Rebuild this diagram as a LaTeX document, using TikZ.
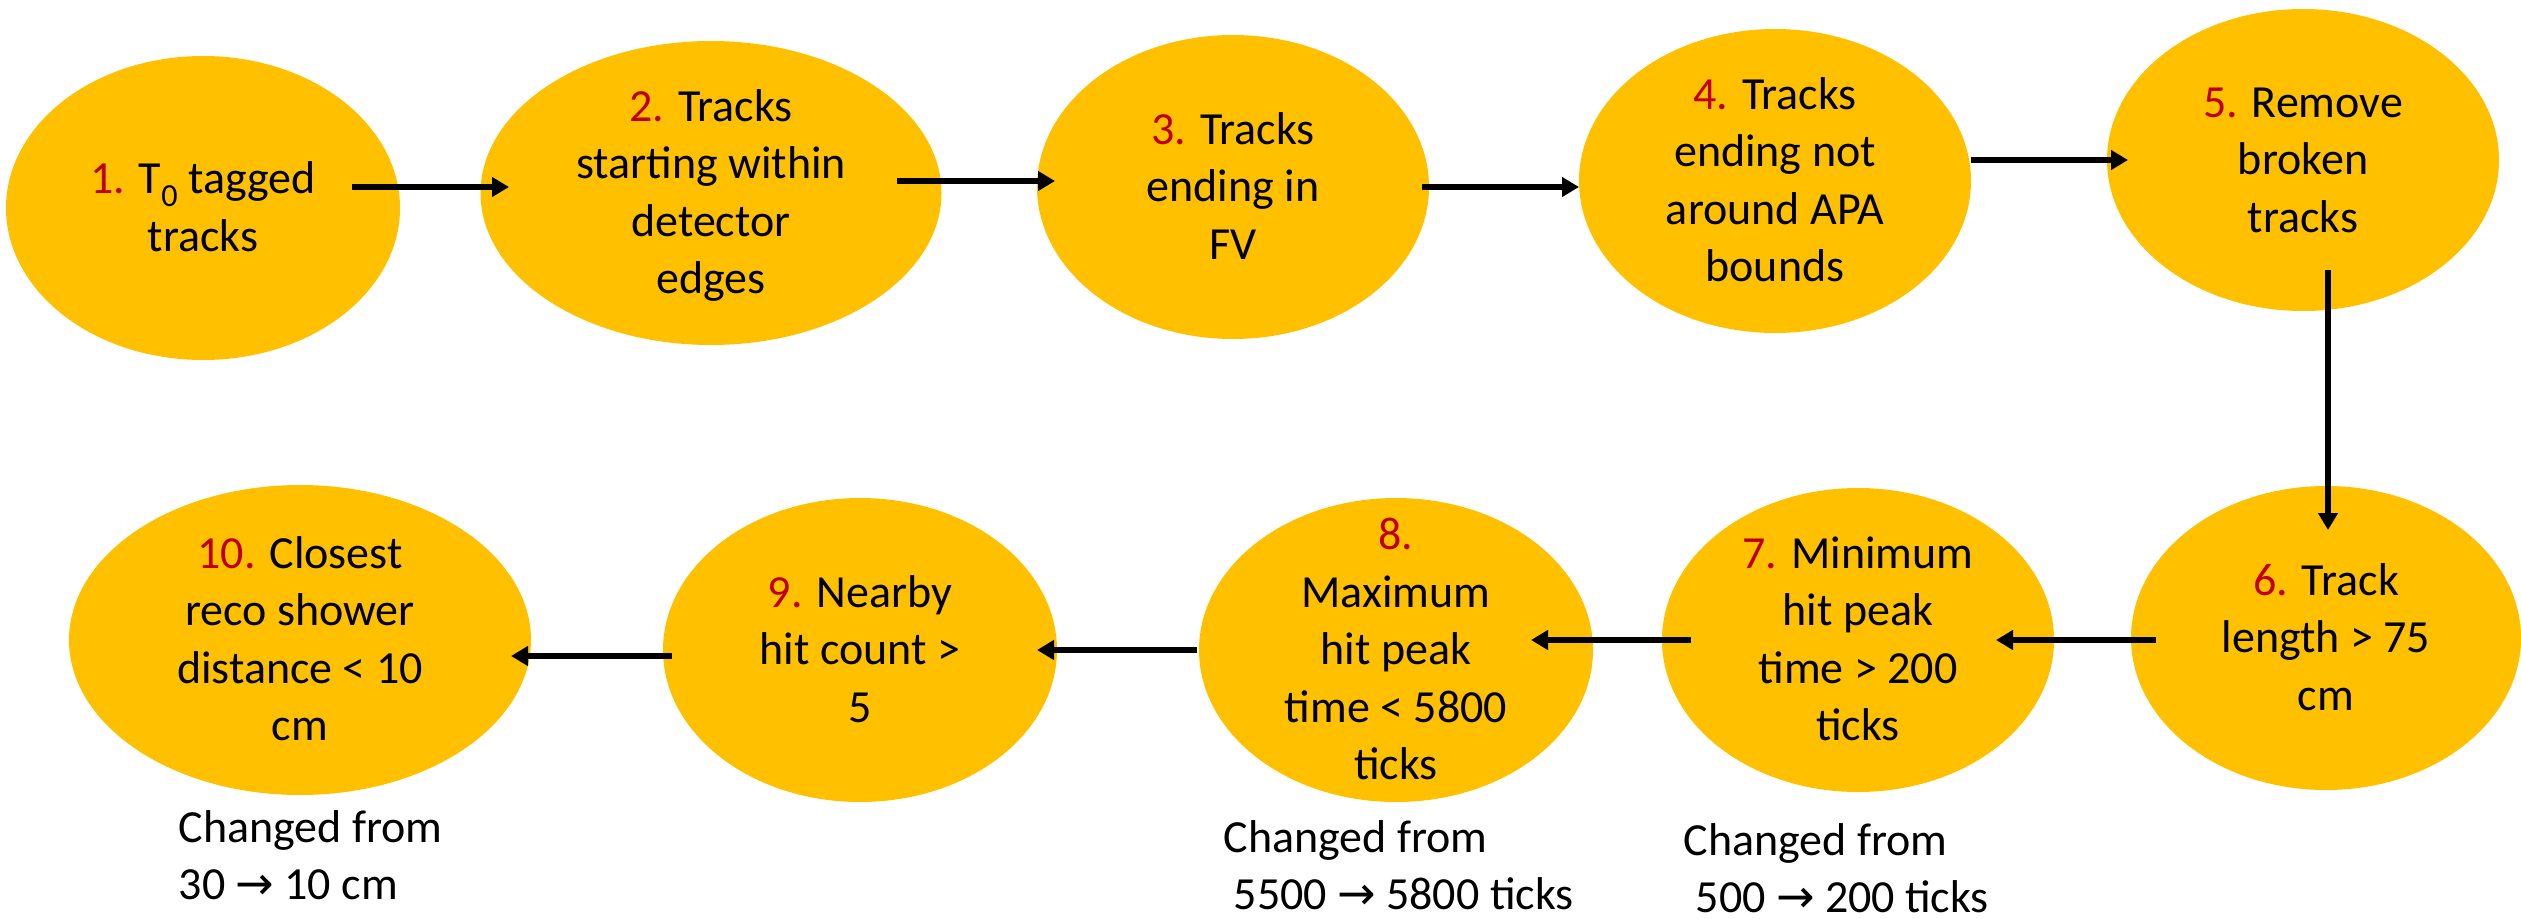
\documentclass[tikz,border=0pt]{standalone}
\usepackage{fontspec}
\setmainfont{Carlito}
\newfontfamily\djvfont{DejaVu Sans}
\usetikzlibrary{shapes.geometric,arrows.meta}
\definecolor{gold}{HTML}{FFC000}
\definecolor{numred}{HTML}{C00000}
% one centred line of zero width, height = cap height, no depth
\newcommand\cenline[1]{\hbox to 0pt{\hss\rule{0pt}{29pt}\smash{#1}\hss}}
% one left-aligned line of zero width
\newcommand\lftline[1]{\hbox to 0pt{\rule{0pt}{29pt}\smash{#1}\hss}}
\newcommand\tblock[1]{\vbox{\baselineskip=57.5pt\lineskiplimit=-500pt\lineskip=0pt #1}}
\newcommand\numc[1]{\textcolor{numred}{#1}}
\newcommand\rarr{{\djvfont →}}
\begin{document}
\begin{tikzpicture}[x=1pt,y=-1pt,
  ell/.style={ellipse, fill=gold, draw=none, inner sep=0pt},
  txt/.style={inner sep=0pt, font=\fontsize{46}{57.5}\selectfont},
  note/.style={inner sep=0pt, anchor=north west, font=\fontsize{46}{58}\selectfont},
  arr/.style={line width=5.5pt, -{Triangle[length=17pt,width=19pt]}}]
\useasboundingbox (0,0) rectangle (2521,918);
% ellipses
\node[ell, minimum width=394pt, minimum height=304pt] (e1) at (203,208) {};
\node[ell, minimum width=461pt, minimum height=304pt] (e2) at (711,193) {};
\node[ell, minimum width=392pt, minimum height=304pt] (e3) at (1233,187) {};
\node[ell, minimum width=392pt, minimum height=304pt] (e4) at (1775,181) {};
\node[ell, minimum width=392pt, minimum height=302pt] (e5) at (2303,160) {};
\node[ell, minimum width=390pt, minimum height=304pt] (e6) at (2326,638) {};
\node[ell, minimum width=392pt, minimum height=304pt] (e7) at (1858,640) {};
\node[ell, minimum width=394pt, minimum height=304pt] (e8) at (1396,650) {};
\node[ell, minimum width=394pt, minimum height=304pt] (e9) at (860,650) {};
\node[ell, minimum width=462pt, minimum height=310pt] (e10) at (300,640) {};
% texts
\node[txt] (t1) at (e1.center) {\tblock{\cenline{\numc{1.} T\textsubscript{0} tagged}\cenline{tracks}}};
\node[txt] (t2) at (e2.center) {\tblock{\cenline{\numc{2.} Tracks}\cenline{starting within}\cenline{detector}\cenline{edges}}};
\node[txt] (t3) at (e3.center) {\tblock{\cenline{\numc{3.} Tracks}\cenline{ending in}\cenline{FV}}};
\node[txt] (t4) at (e4.center) {\tblock{\cenline{\numc{4.} Tracks}\cenline{ending not}\cenline{around APA}\cenline{bounds}}};
\node[txt] (t5) at (e5.center) {\tblock{\cenline{\numc{5.} Remove}\cenline{broken}\cenline{tracks}}};
\node[txt] (t6) at (e6.center) {\tblock{\cenline{\numc{6.} Track}\cenline{length > 75}\cenline{cm}}};
\node[txt] (t7) at (e7.center) {\tblock{\cenline{\numc{7.} Minimum}\cenline{hit peak}\cenline{time > 200}\cenline{ticks}}};
\node[txt] (t8) at (e8.center) {\tblock{\cenline{\numc{8.}}\cenline{Maximum}\cenline{hit peak}\cenline{time < 5800}\cenline{ticks}}};
\node[txt] (t9) at (e9.center) {\tblock{\cenline{\numc{9.} Nearby}\cenline{hit count >}\cenline{5}}};
\node[txt] (t10) at (e10.center) {\tblock{\cenline{\numc{10.} Closest}\cenline{reco shower}\cenline{distance < 10}\cenline{cm}}};
% notes
\node[note] (n10) at (178,813) {\tblock{\lftline{Changed from}\lftline{30 \rarr{} 10 cm}}};
\node[note] (n8) at (1223,823) {\tblock{\lftline{Changed from}\lftline{\hspace{10pt}5500 \rarr{} 5800 ticks}}};
\node[note] (n7) at (1683,826) {\tblock{\lftline{Changed from}\lftline{\hspace{12pt}500 \rarr{} 200 ticks}}};
% arrow end points
\coordinate (a12s) at (352,187);  \coordinate (a12e) at (509,187);
\coordinate (a23s) at (897,181);  \coordinate (a23e) at (1055,181);
\coordinate (a34s) at (1422,187); \coordinate (a34e) at (1579,187);
\coordinate (a45s) at (1971,160); \coordinate (a45e) at (2128,160);
\coordinate (a56s) at (2328,270); \coordinate (a56e) at (2328,530);
\coordinate (a67s) at (2156,640); \coordinate (a67e) at (1996,640);
\coordinate (a78s) at (1691,640); \coordinate (a78e) at (1531,640);
\coordinate (a89s) at (1197,650); \coordinate (a89e) at (1037,650);
\coordinate (a910s) at (672,656); \coordinate (a910e) at (511,656);
\draw[arr] (a12s) -- (a12e);
\draw[arr] (a23s) -- (a23e);
\draw[arr] (a34s) -- (a34e);
\draw[arr] (a45s) -- (a45e);
\draw[arr] (a56s) -- (a56e);
\draw[arr] (a67s) -- (a67e);
\draw[arr] (a78s) -- (a78e);
\draw[arr] (a89s) -- (a89e);
\draw[arr] (a910s) -- (a910e);
\end{tikzpicture}
\end{document}
